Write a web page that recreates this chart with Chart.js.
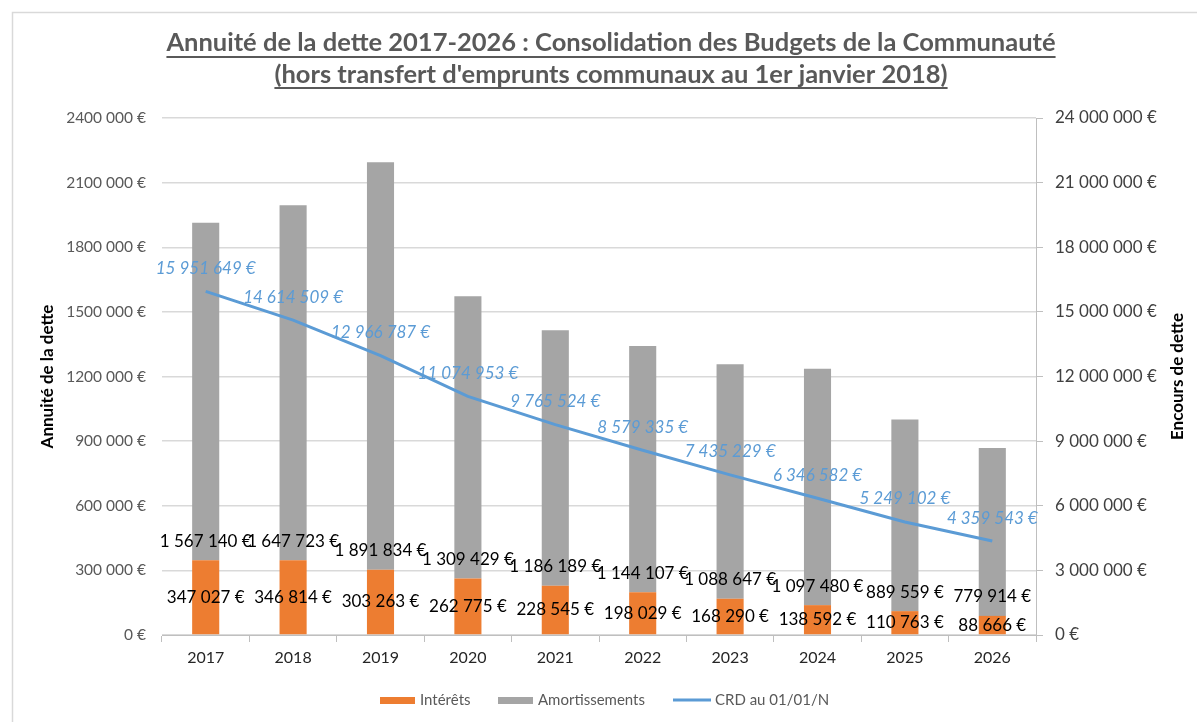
<!DOCTYPE html>
<html><head><meta charset="utf-8">
<script src="https://cdn.jsdelivr.net/npm/chart.js@4.4.1/dist/chart.umd.min.js"></script>
<style>html,body{margin:0;padding:0;background:#fff}#wrap{width:1197px;height:722px;position:relative}</style>
</head><body><div id="wrap"><canvas id="c" width="1197" height="722"></canvas></div>
<script>
const categories = ['2017','2018','2019','2020','2021','2022','2023','2024','2025','2026'];
const interets = [347027, 346814, 303263, 262775, 228545, 198029, 168290, 138592, 110763, 88666];
const amortissements = [1567140, 1647723, 1891834, 1309429, 1186189, 1144107, 1088647, 1097480, 889559, 779914];
const crd = [15951649, 14614509, 12966787, 11074953, 9765524, 8579335, 7435229, 6346582, 5249102, 4359543];
const leftTickLabels = ['0 €','300 000 €','600 000 €','900 000 €','1200 000 €','1500 000 €','1800 000 €','2100 000 €','2400 000 €'];
const rightTickLabels = ['0 €','3 000 000 €','6 000 000 €','9 000 000 €','12 000 000 €','15 000 000 €','18 000 000 €','21 000 000 €','24 000 000 €'];
const titleLines = ['Annuité de la dette 2017-2026 : Consolidation des Budgets de la Communauté', "(hors transfert d'emprunts communaux au 1er janvier 2018)"];
const seriesNames = ['Intérêts','Amortissements','CRD au 01/01/N'];
const axisTitles = ['Annuité de la dette','Encours de dette'];

const ORANGE='#ed7d31', GRAY='#a5a5a5', BLUE='#5b9bd5';
const FONT='Lato, "Open Sans", sans-serif';
function fmt(v){return String(v).replace(/\B(?=(\d{3})+(?!\d))/g,' ')+' €';}

const overlay = {
  id:'overlay',
  beforeDraw(chart){
    const ctx=chart.ctx;
    ctx.save();
    ctx.fillStyle='#fff';ctx.fillRect(0,0,chart.width,chart.height);
    ctx.strokeStyle='#d9d9d9';ctx.lineWidth=1.5;
    ctx.beginPath();ctx.moveTo(12.5,1000);ctx.lineTo(12.5,12.5);ctx.lineTo(1300,12.5);ctx.stroke();
    ctx.restore();
  },
  afterDatasetsDraw(chart){
    const ctx=chart.ctx;
    ctx.save();
    ctx.textAlign='center';ctx.textBaseline='middle';
    const m0=chart.getDatasetMeta(0), m1=chart.getDatasetMeta(1), m2=chart.getDatasetMeta(2);
    ctx.font='17px '+FONT;ctx.fillStyle='#000';
    m0.data.forEach((el,i)=>{ctx.fillText(fmt(interets[i]), el.x, (el.y+el.base)/2);});
    m1.data.forEach((el,i)=>{ctx.fillText(fmt(amortissements[i]), el.x, el.base-19);});
    ctx.font='italic 17px '+FONT;ctx.fillStyle=BLUE;
    m2.data.forEach((el,i)=>{ctx.fillText(fmt(crd[i]), el.x, el.y-23);});
    ctx.restore();
  },
  afterDraw(chart){
    const ctx=chart.ctx, ca=chart.chartArea;
    ctx.save();
    ctx.fillStyle='#595959';ctx.strokeStyle='#595959';ctx.textAlign='center';ctx.textBaseline='alphabetic';
    ctx.font='bold 25.5px '+FONT;
    const cx=611;
    [[titleLines[0],51,57],[titleLines[1],83,88]].forEach(([t,y,uy])=>{
      ctx.fillText(t,cx,y);
      const w=ctx.measureText(t).width;
      ctx.lineWidth=2;ctx.beginPath();ctx.moveTo(cx-w/2,uy);ctx.lineTo(cx+w/2,uy);ctx.stroke();
    });
    ctx.fillStyle='#000';ctx.font='bold 17px '+FONT;ctx.textBaseline='middle';
    const my=(ca.top+ca.bottom)/2;
    [[48,axisTitles[0]],[1178,axisTitles[1]]].forEach(([x,t])=>{
      ctx.save();ctx.translate(x,my);ctx.rotate(-Math.PI/2);ctx.fillText(t,0,0);ctx.restore();
    });
    ctx.font='15px '+FONT;ctx.textAlign='left';ctx.textBaseline='middle';
    const ly=700;
    ctx.fillStyle=ORANGE;ctx.fillRect(380,697,35,7);
    ctx.fillStyle=GRAY;ctx.fillRect(498,697,35,7);
    ctx.strokeStyle=BLUE;ctx.lineWidth=3;ctx.beginPath();ctx.moveTo(673,ly);ctx.lineTo(711,ly);ctx.stroke();
    ctx.fillStyle='#595959';
    ctx.fillText(seriesNames[0],420,ly);
    ctx.fillText(seriesNames[1],538,ly);
    ctx.fillText(seriesNames[2],715,ly);
    ctx.restore();
  }
};

new Chart(document.getElementById('c'),{
  data:{
    labels:categories,
    datasets:[
      {type:'bar',label:seriesNames[0],data:interets,backgroundColor:ORANGE,stack:'s',yAxisID:'y',order:1,barPercentage:0.31,categoryPercentage:1},
      {type:'bar',label:seriesNames[1],data:amortissements,backgroundColor:GRAY,stack:'s',yAxisID:'y',order:1,barPercentage:0.31,categoryPercentage:1},
      {type:'line',label:seriesNames[2],data:crd,borderColor:BLUE,backgroundColor:BLUE,borderWidth:3,pointRadius:0,yAxisID:'y1',order:0,tension:0}
    ]
  },
  options:{
    responsive:false,animation:false,
    layout:{padding:{left:0,right:0,top:118,bottom:37}},
    plugins:{legend:{display:false},title:{display:false},tooltip:{enabled:false}},
    scales:{
      x:{type:'category',offset:true,
        grid:{display:true,drawOnChartArea:false,drawTicks:true,tickLength:7,color:'#bfbfbf',offset:true},
        border:{display:true,color:'#bfbfbf'},
        ticks:{color:'#262626',font:{family:FONT,size:16},padding:6},
        afterFit(s){s.height=50;}
      },
      y:{position:'left',min:0,max:2400000,
        ticks:{stepSize:300000,color:'#595959',font:{family:FONT,size:15.5},padding:16,callback:(v,i)=>leftTickLabels[i]},
        grid:{color:'#d9d9d9',drawTicks:false,lineWidth:1.5},
        border:{display:false},
        afterFit(s){s.width=162;}
      },
      y1:{position:'right',min:0,max:24000000,
        ticks:{stepSize:3000000,color:'#404040',font:{family:FONT,size:17},padding:12,callback:(v,i)=>rightTickLabels[i]},
        grid:{drawOnChartArea:false,drawTicks:true,tickLength:7,color:'#bfbfbf'},
        border:{display:true,color:'#bfbfbf'},
        afterFit(s){s.width=161;}
      }
    }
  },
  plugins:[overlay]
});
</script></body></html>
